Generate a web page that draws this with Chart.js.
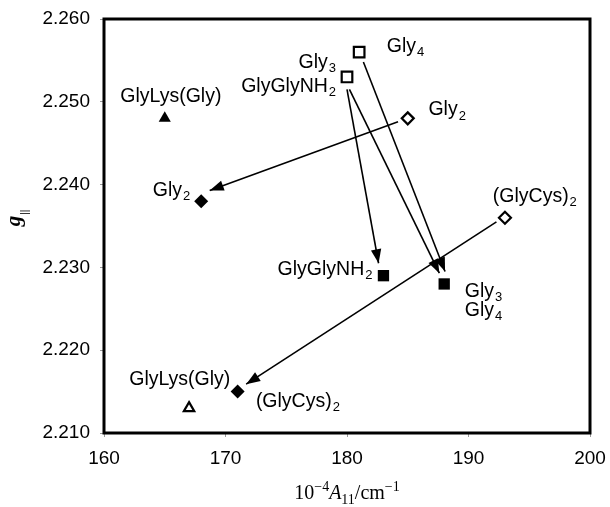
<!DOCTYPE html>
<html><head><meta charset="utf-8">
<script src="https://cdn.jsdelivr.net/npm/chart.js@4/dist/chart.umd.min.js"></script>
<style>html,body{margin:0;padding:0;background:#fff;}</style>
</head><body>
<canvas id="c" width="610" height="507" style="width:610px;height:507px;display:block"></canvas>
<script>
// ---- data ----
const xTicks = [160, 170, 180, 190, 200];
const yTicks = [2.210, 2.220, 2.230, 2.240, 2.250, 2.260];

const filledTriangle = [{x:165, y:2.248}];
const openTriangle   = [{x:167, y:2.213}];
const filledDiamond  = [{x:168, y:2.238}, {x:171, y:2.215}];
const openDiamond    = [{x:185, y:2.248}, {x:193, y:2.236}];
const filledSquare   = [{x:183, y:2.229}, {x:188, y:2.228}];
const openSquare     = [{x:181, y:2.256}, {x:180, y:2.253}];

// arrows: start -> tip
const arrowStartX = [184.2, 180.0, 180.2, 181.35, 192.3];
const arrowStartY = [2.2476, 2.2515, 2.2515, 2.2548, 2.2355];
const arrowTipX   = [168.7, 182.6, 187.6, 188.07, 171.7];
const arrowTipY   = [2.2393, 2.2305, 2.2293, 2.2295, 2.2159];

// annotations
const labelText  = ['GlyLys(Gly)','Gly','Gly','GlyGlyNH','Gly','Gly','(GlyCys)','GlyGlyNH','Gly','Gly','GlyLys(Gly)','(GlyCys)'];
const labelSub   = ['','4','3','2','2','2','2','2','3','4','','2'];
const labelX     = [161.34, 183.27, 179.1, 179.1, 186.7, 167.1, 192.0, 182.1, 189.7, 189.7, 170.4, 172.5];
const labelY     = [2.2506, 2.2567, 2.2547, 2.2518, 2.2490, 2.2393, 2.2386, 2.2297, 2.2271, 2.2248, 2.2164, 2.2138];
const labelAlign = ['left','left','right','right','left','right','left','right','left','left','right','left'];

// ---- chart ----
const SANS = "'Liberation Sans', Arial, Helvetica, sans-serif";
const SERIF = "'Liberation Serif', 'Times New Roman', serif";

const arrowSets = arrowStartX.map((sx, i) => ({
  type: 'line',
  data: [{x: sx, y: arrowStartY[i]}, {x: arrowTipX[i], y: arrowTipY[i]}],
  borderColor: '#000', borderWidth: 1.6, pointRadius: 0, showLine: true,
  fill: false, isArrow: true, order: 2
}));

function markerSet(data, style, filled, radius) {
  return {
    type: 'scatter', data, pointStyle: style, pointRadius: radius,
    pointBackgroundColor: filled ? '#000' : '#fff',
    pointBorderColor: '#000', pointBorderWidth: filled ? 0 : 2.2,
    showLine: false, order: 1
  };
}

const framePlugin = {
  id: 'frameAndText',
  afterDatasetsDraw(chart) {
    const ctx = chart.ctx, xs = chart.scales.x, ys = chart.scales.y;
    ctx.save();
    // arrowheads
    chart.data.datasets.forEach((ds, i) => {
      if (!ds.isArrow) return;
      const meta = chart.getDatasetMeta(i);
      const p0 = meta.data[0], p1 = meta.data[1];
      const ang = Math.atan2(p1.y - p0.y, p1.x - p0.x);
      const L = 14, W = 5.2;
      ctx.beginPath();
      ctx.moveTo(p1.x, p1.y);
      ctx.lineTo(p1.x - L*Math.cos(ang) + W*Math.sin(ang), p1.y - L*Math.sin(ang) - W*Math.cos(ang));
      ctx.lineTo(p1.x - L*Math.cos(ang) - W*Math.sin(ang), p1.y - L*Math.sin(ang) + W*Math.cos(ang));
      ctx.closePath();
      ctx.fillStyle = '#000';
      ctx.fill();
    });
    // labels
    ctx.fillStyle = '#000';
    ctx.textBaseline = 'middle';
    ctx.textAlign = 'left';
    labelText.forEach((t, i) => {
      const px = xs.getPixelForValue(labelX[i]);
      const py = ys.getPixelForValue(labelY[i]);
      ctx.font = '19.5px ' + SANS;
      const w1 = ctx.measureText(t).width;
      ctx.font = '13px ' + SANS;
      const w2 = labelSub[i] ? ctx.measureText(labelSub[i]).width + 1 : 0;
      const sx = labelAlign[i] === 'right' ? px - w1 - w2 : px;
      ctx.font = '19.5px ' + SANS;
      ctx.fillText(t, sx, py);
      if (labelSub[i]) {
        ctx.font = '13px ' + SANS;
        ctx.fillText(labelSub[i], sx + w1 + 1, py + 6);
      }
    });
    ctx.restore();
  },
  afterDraw(chart) {
    const ctx = chart.ctx, a = chart.chartArea;
    ctx.save();
    ctx.strokeStyle = '#000';
    ctx.lineWidth = 3;
    ctx.strokeRect(a.left, a.top, a.right - a.left, a.bottom - a.top);
    // x title
    const parts = [
      {t:'10', f:'20px ' + SERIF, dy:0},
      {t:'\u22124', f:'14px ' + SERIF, dy:-8},
      {t:'A', f:'italic 20px ' + SERIF, dy:0},
      {t:'11', f:'14px ' + SERIF, dy:5},
      {t:'/cm', f:'20px ' + SERIF, dy:0},
      {t:'\u22121', f:'14px ' + SERIF, dy:-8}
    ];
    let total = 0;
    parts.forEach(p => { ctx.font = p.f; p.w = ctx.measureText(p.t).width; total += p.w; });
    let x = (a.left + a.right) / 2 - total / 2;
    ctx.fillStyle = '#000';
    ctx.textBaseline = 'alphabetic';
    ctx.textAlign = 'left';
    parts.forEach(p => { ctx.font = p.f; ctx.fillText(p.t, x, 499 + p.dy); x += p.w; });
    // y title
    ctx.translate(20, 218);
    ctx.rotate(-Math.PI / 2);
    ctx.font = 'bold italic 21px ' + SERIF;
    const gw = ctx.measureText('g').width;
    ctx.fillText('g', -gw / 2 - 3, 0);
    ctx.font = '10px ' + SANS;
    ctx.fillText('||', gw / 2 - 2, 8);
    ctx.restore();
  }
};

new Chart(document.getElementById('c'), {
  data: {
    datasets: [
      ...arrowSets,
      markerSet(filledTriangle, 'triangle', true, 7),
      markerSet(openTriangle, 'triangle', false, 6),
      markerSet(filledDiamond, 'rectRot', true, 7),
      markerSet(openDiamond, 'rectRot', false, 6),
      markerSet(filledSquare, 'rect', true, 8),
      markerSet(openSquare, 'rect', false, 7.5)
    ]
  },
  options: {
    responsive: false,
    devicePixelRatio: 1,
    animation: false,
    layout: { padding: { left: 0, top: 19, right: 20, bottom: 0 } },
    plugins: { legend: { display: false }, tooltip: { enabled: false } },
    scales: {
      x: {
        type: 'linear', min: 160, max: 200,
        afterBuildTicks: s => { s.ticks = xTicks.map(v => ({value: v})); },
        afterFit: s => { s.height = 74; s.paddingLeft = 0; s.paddingRight = 0; },
        grid: { display: true, drawOnChartArea: false, drawTicks: true, tickLength: 4, color: '#999' },
        border: { display: false },
        ticks: { color: '#000', font: { family: SANS, size: 19 }, padding: 10, maxRotation: 0,
                 callback: v => String(v) }
      },
      y: {
        type: 'linear', min: 2.21, max: 2.26,
        afterBuildTicks: s => { s.ticks = yTicks.map(v => ({value: v})); },
        afterFit: s => { s.width = 104; s.paddingTop = 0; s.paddingBottom = 0; },
        grid: { display: true, drawOnChartArea: false, drawTicks: true, tickLength: 4, color: '#999' },
        border: { display: false },
        ticks: { color: '#000', font: { family: SANS, size: 19 }, padding: 10,
                 callback: v => Number(v).toFixed(3) }
      }
    }
  },
  plugins: [framePlugin]
});
</script>
</body></html>
